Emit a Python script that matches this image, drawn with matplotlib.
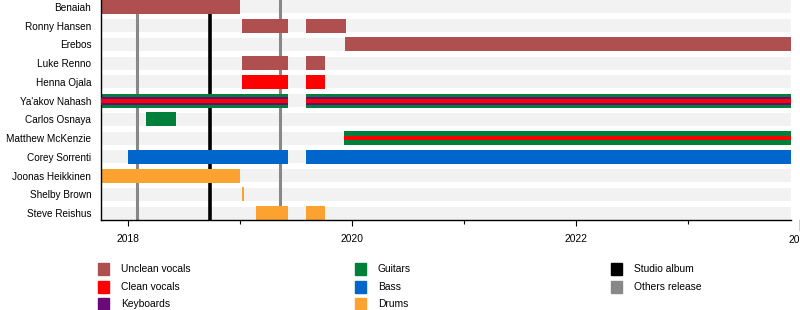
import matplotlib.pyplot as plt
from matplotlib.patches import Rectangle

plt.rcParams['font.family'] = ['Liberation Sans', 'DejaVu Sans']

# band members, top to bottom
members = ['Benaiah', 'Ronny Hansen', 'Erebos', 'Luke Renno', 'Henna Ojala',
           "Ya'akov Nahash", 'Carlos Osnaya', 'Matthew McKenzie', 'Corey Sorrenti',
           'Joonas Heikkinen', 'Shelby Brown', 'Steve Reishus']

start = 2017.76
end = 2023.92

colors = {
    'Unclean vocals': '#b04f4f',
    'Clean vocals': '#ff0000',
    'Keyboards': '#6a0a78',
    'Guitars': '#007f3a',
    'Bass': '#0066cc',
    'Drums': '#fba230',
}

# (member, role, from, to)
periods = [
    ('Benaiah', 'Unclean vocals', start, 2019.00),
    ('Ronny Hansen', 'Unclean vocals', 2019.02, 2019.43),
    ('Ronny Hansen', 'Unclean vocals', 2019.59, 2019.95),
    ('Erebos', 'Unclean vocals', 2019.94, end),
    ('Luke Renno', 'Unclean vocals', 2019.02, 2019.43),
    ('Luke Renno', 'Unclean vocals', 2019.59, 2019.76),
    ('Henna Ojala', 'Clean vocals', 2019.02, 2019.43),
    ('Henna Ojala', 'Clean vocals', 2019.59, 2019.76),
    ("Ya'akov Nahash", 'Guitars', start, 2019.43),
    ("Ya'akov Nahash", 'Guitars', 2019.59, end),
    ('Carlos Osnaya', 'Guitars', 2018.16, 2018.43),
    ('Matthew McKenzie', 'Guitars', 2019.93, end),
    ('Corey Sorrenti', 'Bass', 2018.00, 2019.43),
    ('Corey Sorrenti', 'Bass', 2019.59, end),
    ('Joonas Heikkinen', 'Drums', start, 2019.00),
    ('Shelby Brown', 'Drums', 2019.02, 2019.04),
    ('Steve Reishus', 'Drums', 2019.14, 2019.43),
    ('Steve Reishus', 'Drums', 2019.59, 2019.76),
]

# secondary roles drawn as thinner stripes on top
extra = [
    ("Ya'akov Nahash", 'Keyboards', start, 2019.43, 0.42),
    ("Ya'akov Nahash", 'Keyboards', 2019.59, end, 0.42),
    ("Ya'akov Nahash", 'Clean vocals', start, 2019.43, 0.2),
    ("Ya'akov Nahash", 'Clean vocals', 2019.59, end, 0.2),
    ('Matthew McKenzie', 'Clean vocals', 2019.93, end, 0.25),
]

studio_albums = [2018.73]
other_releases = [2018.08, 2019.36]

fig = plt.figure(figsize=(8, 3.1), dpi=100)
ax = fig.add_axes([101 / 800, 90 / 310, 690 / 800, 220 / 310])

ypos = {m: -i for i, m in enumerate(members)}

for m in members:
    ax.barh(ypos[m], end - start, left=start, height=0.7, color='#f2f2f2', zorder=0)

for x in other_releases:
    ax.axvline(x, color='#888888', lw=2.2, zorder=1)
for x in studio_albums:
    ax.axvline(x, color='black', lw=2.6, zorder=1)

for m, role, a, b in periods:
    ax.barh(ypos[m], b - a, left=a, height=0.74, color=colors[role], zorder=2)
for m, role, a, b, h in extra:
    ax.barh(ypos[m], b - a, left=a, height=h, color=colors[role], zorder=3)

ax.set_xlim(start, end)
ax.set_ylim(-11.37, 0.37)
ax.set_yticks([ypos[m] for m in members])
ax.set_yticklabels(members, fontsize=7.2)
ax.tick_params(axis='y', length=0, pad=7)

ax.set_xticks([2018, 2020, 2022])
ax.set_xticklabels(['2018', '2020', '2022'], fontsize=7.4)
ax.set_xticks([2019, 2021, 2023], minor=True)
ax.tick_params(axis='x', which='major', length=4, width=0.8, pad=6)
ax.tick_params(axis='x', which='minor', length=3, width=0.8)

for s in ['top', 'right']:
    ax.spines[s].set_visible(False)
ax.spines['left'].set_linewidth(1.0)
ax.spines['bottom'].set_linewidth(1.0)

# last year label sits just past the plotting area
ax.plot([2024, 2024], [-11.37, -11.9], color='black', lw=1.0, clip_on=False)
ax.text(2024, -12.15, '2024', fontsize=7.4, ha='center', va='top', clip_on=False)

legend_cols = [
    (98, ['Unclean vocals', 'Clean vocals', 'Keyboards']),
    (355, ['Guitars', 'Bass', 'Drums']),
    (611, ['Studio album', 'Others release']),
]
legend_colors = dict(colors)
legend_colors['Studio album'] = 'black'
legend_colors['Others release'] = '#888888'
rows_y = [269, 287, 304]

for x0, names in legend_cols:
    for name, yc in zip(names, rows_y):
        fig.add_artist(Rectangle((x0 / 800, 1 - (yc + 6) / 310), 11 / 800, 12 / 310,
                                 transform=fig.transFigure, color=legend_colors[name]))
        fig.text((x0 + 23) / 800, 1 - yc / 310, name, fontsize=7.4, va='center')

fig.savefig('out.png', dpi=100)
